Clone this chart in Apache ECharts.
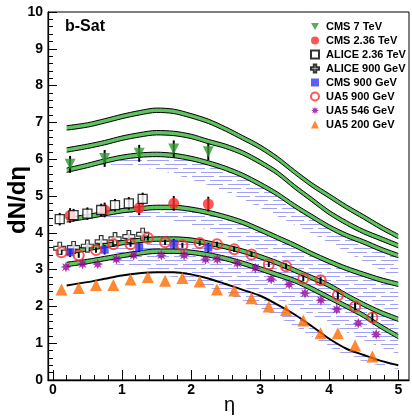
<!DOCTYPE html>
<html><head><meta charset="utf-8">
<script src="https://cdn.jsdelivr.net/npm/echarts@6/dist/echarts.min.js"></script>
<style>html,body{margin:0;padding:0;background:#fff}#c{width:412px;height:416px}</style>
</head><body><div id="c"></div>
<script>
// ---- model curves (b-Sat), sampled on a common eta grid ----
const curveEta = [0.2,0.5,0.75,1.0,1.25,1.5,1.75,2.0,2.25,2.5,2.75,3.0,3.25,3.5,3.75,4.0,4.25,4.5,4.75,5.0];
const bsat14TeV  = [6.85,6.93,7.04,7.16,7.26,7.33,7.30,7.18,7.03,6.82,6.58,6.33,6.02,5.65,5.30,5.00,4.70,4.43,4.15,3.90];
const bsat10TeV  = [6.25,6.35,6.45,6.57,6.66,6.72,6.70,6.62,6.48,6.35,6.17,5.92,5.63,5.25,4.90,4.55,4.27,4.03,3.84,3.65];
const bsat7TeV   = [5.70,5.83,5.95,6.05,6.11,6.13,6.10,6.02,5.90,5.75,5.56,5.32,5.05,4.73,4.44,4.16,3.93,3.75,3.55,3.38];
const bsat236TeV = [4.35,4.44,4.52,4.60,4.65,4.69,4.69,4.64,4.55,4.43,4.28,4.08,3.87,3.66,3.43,3.22,3.03,2.87,2.72,2.60];
const bsat900GeV = [3.47,3.57,3.65,3.73,3.79,3.83,3.83,3.80,3.72,3.62,3.50,3.35,3.18,2.98,2.78,2.57,2.30,2.05,1.83,1.65];
const bsat546GeV = [3.14,3.22,3.30,3.38,3.45,3.50,3.50,3.47,3.40,3.30,3.17,3.02,2.86,2.70,2.48,2.24,2.00,1.75,1.45,1.18];
const bsat200GeV = [2.57,2.66,2.75,2.84,2.90,2.93,2.93,2.87,2.76,2.61,2.45,2.29,2.05,1.78,1.46,1.12,0.85,0.68,0.52,0.40];
// lower edges of the hatched regions below the curves
const hatchLow7TeV   = [5.70,5.83,5.85,5.85,5.80,5.72,5.60,5.45,5.30,5.12,4.90,4.68,4.45,4.22,3.98,3.73,3.48,3.22,2.98,2.75];
const hatchLow236TeV = [4.35,4.40,4.38,4.40,4.42,4.40,4.33,4.22,4.08,3.92,3.73,3.52,3.30,3.08,2.85,2.62,2.40,2.18,1.98,1.80];
const hatchLow900GeV = [3.47,3.50,3.50,3.45,3.42,3.40,3.38,3.33,3.25,3.12,2.98,2.82,2.64,2.45,2.25,2.04,1.80,1.58,1.38,1.20];
const hatchLow546GeV = [3.14,3.18,3.18,3.12,3.05,3.00,2.95,2.88,2.78,2.66,2.52,2.36,2.18,1.98,1.76,1.54,1.30,1.08,0.88,0.70];
const hatchLow200GeV = [2.57,2.66,2.75,2.84,2.88,2.86,2.80,2.68,2.52,2.35,2.16,1.96,1.72,1.46,1.18,0.90,0.66,0.50,0.38,0.30];

// ---- data points ----
const cms7Eta = [0.25,0.75,1.25,1.75,2.25];
const cms7Val = [5.86,6.02,6.16,6.28,6.20];
const cms7Err = [0.23,0.23,0.23,0.23,0.23];
const cms236Eta = [0.25,0.75,1.25,1.75,2.25];
const cms236Val = [4.47,4.62,4.68,4.80,4.78];
const cms236Err = [0.2,0.2,0.2,0.2,0.2];
const alice236Eta = [0.1,0.3,0.5,0.7,0.9,1.1,1.3];
const alice236Val = [4.37,4.48,4.52,4.62,4.75,4.80,4.92];
const alice236Err = [0.17,0.17,0.17,0.17,0.17,0.17,0.17];
const alice900Eta = [0.1,0.3,0.5,0.7,0.9,1.1,1.3];
const alice900Val = [3.58,3.60,3.64,3.76,3.84,3.90,3.96];
const alice900Err = [0.08,0.08,0.08,0.08,0.08,0.08,0.08];
const cms900Eta = [0.25,0.75,1.25,1.75,2.25];
const cms900Val = [3.47,3.54,3.61,3.70,3.60];
const cms900Err = [0.13,0.13,0.13,0.13,0.13];
const ua5900Eta = [0.125,0.375,0.625,0.875,1.125,1.375,1.625,1.875,2.125,2.375,2.625,2.875,3.125,3.375,3.625,3.875,4.125,4.375,4.625];
const ua5900Val = [3.47,3.39,3.53,3.69,3.69,3.86,3.74,3.66,3.72,3.69,3.55,3.41,3.14,3.09,2.76,2.71,2.30,2.00,1.70];
const ua5900Err = [0.07,0.07,0.07,0.07,0.07,0.07,0.07,0.07,0.07,0.07,0.07,0.07,0.07,0.08,0.08,0.09,0.1,0.11,0.14];
const ua5546Eta = [0.19,0.43,0.65,0.92,1.17,1.57,1.9,2.21,2.38,2.67,2.93,3.16,3.42,3.65,3.88,4.11,4.42,4.68];
const ua5546Val = [3.07,3.15,3.15,3.28,3.39,3.39,3.39,3.28,3.28,3.17,3.04,2.74,2.60,2.36,2.17,1.92,1.54,1.24];
const ua5200Eta = [0.125,0.375,0.625,0.875,1.125,1.375,1.625,1.875,2.125,2.375,2.625,2.875,3.125,3.375,3.625,3.875,4.125,4.375,4.625];
const ua5200Val = [2.46,2.50,2.58,2.58,2.73,2.80,2.70,2.77,2.68,2.46,2.43,2.22,2.00,1.90,1.62,1.27,1.27,0.94,0.64];

const xMajorTicks = [0,1,2,3,4,5];
const legendNames = ['CMS 7 TeV','CMS 2.36 TeV','ALICE 2.36 TeV','ALICE 900 GeV','CMS 900 GeV','UA5 900 GeV','UA5 546 GeV','UA5 200 GeV'];

// ---------- build chart ----------
const FONT = 'Liberation Sans, Arial, sans-serif';
const zip = (xs, ys) => xs.map((x, i) => [x, ys[i]]);
// value first so that stacking applies to the y value (encode maps it back)
const zipYX = (xs, ys) => xs.map((x, i) => [ys[i], x]);
const YX = {x:1, y:0};

const series = [];
const bandHalf = 0.06;
// hatched region between a curve and its lower edge: horizontal dashed lines clipped to the region
function hatch(curve, low) {
  series.push({ type:'custom', silent:true, z:1, data:[[curveEta[0], curve[0]]], encode:{x:0, y:1},
    renderItem: function(params, api) {
      const top = curveEta.map((x,i)=>api.coord([x, curve[i]]));
      const bot = curveEta.map((x,i)=>api.coord([x, low[i]])).reverse();
      const poly = top.concat(bot);
      let y0 = Infinity, y1 = -Infinity;
      poly.forEach(p => { y0 = Math.min(y0, p[1]); y1 = Math.max(y1, p[1]); });
      const cs = params.coordSys;
      const children = [];
      for (let y = Math.floor(y0/4)*4; y <= y1 + 1; y += 4) {
        const k = y/4;
        children.push({ type:'line', shape:{x1:cs.x, y1:y+0.5, x2:cs.x+cs.width, y2:y+0.5},
          style:{stroke:'rgb(160,160,245)', lineWidth:1, lineDash:[22,5], lineDashOffset:(k*9)%27} });
      }
      return { type:'group', clipPath:{type:'polygon', shape:{points:poly}}, children };
    }});
}
function band(curve, id) {
  series.push({ type:'line', name:'b'+id, stack:'b'+id, data: zipYX(curveEta, curve.map(v=>v-bandHalf)), encode:YX, symbol:'none', smooth:0.3,
    lineStyle:{width:1, color:'#000'}, silent:true, z:3 });
  series.push({ type:'line', name:'b2'+id, stack:'b'+id, data: zipYX(curveEta, curve.map(()=>2*bandHalf)), encode:YX, symbol:'none', smooth:0.3,
    lineStyle:{width:1, color:'#000'}, areaStyle:{color:'#5fc35f', opacity:1}, silent:true, z:3 });
}
hatch(bsat7TeV, hatchLow7TeV);
hatch(bsat236TeV, hatchLow236TeV);
hatch(bsat900GeV, hatchLow900GeV);
hatch(bsat546GeV, hatchLow546GeV);
hatch(bsat200GeV, hatchLow200GeV);
band(bsat14TeV, 'A');
band(bsat10TeV, 'B');
band(bsat7TeV, 'C');
band(bsat236TeV, 'D');
band(bsat900GeV, 'E');
band(bsat546GeV, 'F');
series.push({ type:'line', name:'g200', data: zip(curveEta, bsat200GeV), symbol:'none', smooth:0.3,
  lineStyle:{width:2, color:'#000'}, silent:true, z:3 });

function errBars(xs, ys, es) {
  series.push({ type:'custom', name:'err', z:5, silent:true,
    data: xs.map((x,i)=>[x, ys[i]-es[i], ys[i]+es[i]]),
    encode:{x:0, y:[1,2]},
    renderItem: function(params, api){
      const a = api.coord([api.value(0), api.value(1)]);
      const b = api.coord([api.value(0), api.value(2)]);
      return { type:'line', shape:{x1:a[0], y1:a[1], x2:b[0], y2:b[1]}, style:{stroke:'#000', lineWidth:2} };
    }});
}
errBars(cms7Eta, cms7Val, cms7Err);
errBars(cms236Eta, cms236Val, cms236Err);
errBars(alice236Eta, alice236Val, alice236Err);
errBars(alice900Eta, alice900Val, alice900Err);
errBars(cms900Eta, cms900Val, cms900Err);
errBars(ua5900Eta, ua5900Val, ua5900Err);

const downTri = 'path://M0,0 L10,0 L5,9 Z';
const crossPath = 'path://M3.5,0 H6.5 V3.5 H10 V6.5 H6.5 V10 H3.5 V6.5 H0 V3.5 H3.5 Z';
const starPath = 'path://M10,5 L7.2,6 L8.54,8.54 L6,7.2 L5,10 L4,7.2 L1.46,8.54 L2.8,6 L0,5 L2.8,4 L1.46,1.46 L4,2.8 L5,0 L6,2.8 L8.54,1.46 L7.2,4 Z';
function pts(name, xs, ys, symbol, size, itemStyle) {
  series.push({ type:'scatter', name, data: zip(xs, ys), symbol, symbolSize:size, itemStyle, z:6 });
}
pts(legendNames[0], cms7Eta, cms7Val, downTri, 11, {color:'#2e9a2e'});
pts(legendNames[1], cms236Eta, cms236Val, 'circle', 11, {color:'#ff2a2a'});
pts(legendNames[2], alice236Eta, alice236Val, 'rect', 9, {color:'#fff', borderColor:'#000', borderWidth:1.3});
pts(legendNames[3], alice900Eta, alice900Val, crossPath, 12, {color:'#fff', borderColor:'#000', borderWidth:1.2});
pts(legendNames[4], cms900Eta, cms900Val, 'rect', 8, {color:'#3333ff'});
pts(legendNames[5], ua5900Eta, ua5900Val, 'circle', 10, {color:'rgba(255,255,255,0)', borderColor:'#ff2a2a', borderWidth:2});
pts(legendNames[6], ua5546Eta, ua5546Val, starPath, 11, {color:'#990099'});
pts(legendNames[7], ua5200Eta, ua5200Val, 'triangle', 12, {color:'#ff6a00'});

const minorX = [];
for (let k = 0; k <= 25; k++) { if (k % 5) minorX.push(k/5); }

const chart = echarts.init(document.getElementById('c'), null, {renderer:'canvas'});
chart.setOption({
  animation:false,
  backgroundColor:'#fff',
  grid:{left:48, right:3, top:12, bottom:36, show:true, borderColor:'#000', borderWidth:1},
  legend:{
    data: legendNames,
    orient:'vertical', left:305, top:16, itemWidth:8, itemHeight:8, itemGap:3,
    textStyle:{fontFamily:FONT, fontWeight:'bold', fontSize:11, color:'#000', lineHeight:11, padding:[0,0,0,2]},
    selectedMode:false
  },
  xAxis:[
    { type:'value', min:-0.07, max:5.155, position:'bottom',
      axisLine:{show:true, onZero:false, lineStyle:{color:'#000', width:1.3}},
      axisTick:{show:true, inside:true, length:10, customValues:xMajorTicks, lineStyle:{color:'#000', width:1}},
      axisLabel:{show:true, customValues:xMajorTicks, margin:3, fontFamily:FONT, fontWeight:'bold', fontSize:14, color:'#000'},
      splitLine:{show:false} },
    { type:'value', min:-0.07, max:5.155, position:'bottom', gridIndex:0,
      axisLine:{show:false},
      axisTick:{show:true, inside:true, length:5, customValues:minorX, lineStyle:{color:'#000', width:1}},
      axisLabel:{show:false}, splitLine:{show:false} }
  ],
  yAxis:{ type:'value', min:0, max:10, interval:1,
    axisLine:{show:true, onZero:false, lineStyle:{color:'#000', width:1.3}},
    axisTick:{show:true, inside:true, length:9, lineStyle:{color:'#000'}},
    minorTick:{show:true, splitNumber:5, length:5, lineStyle:{color:'#000'}},
    axisLabel:{margin:5, fontFamily:FONT, fontWeight:'bold', fontSize:14, color:'#000'},
    splitLine:{show:false} },
  graphic:[
    { type:'text', left:65, top:19, style:{text:'b-Sat', font:'bold 16px '+FONT, fill:'#000'} },
    { type:'text', x:6, y:234, rotation:Math.PI/2, style:{text:'dN/dη', font:'bold 24px '+FONT, fill:'#000', textAlign:'left', textVerticalAlign:'top'} },
    { type:'text', left:224, top:395, style:{text:'η', font:'20px '+FONT, fill:'#000'} }
  ],
  series
});
</script></body></html>
